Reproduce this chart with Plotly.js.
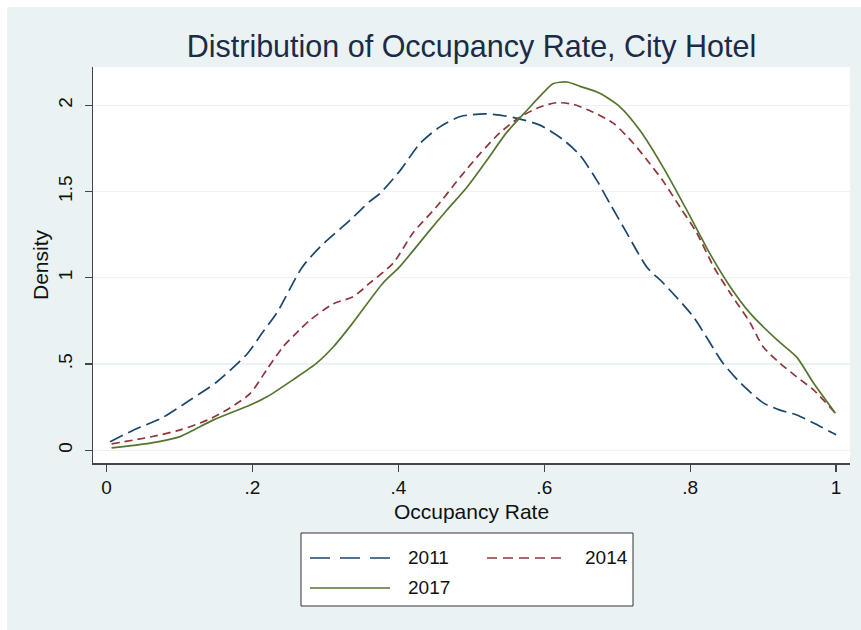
<!DOCTYPE html>
<html>
<head>
<meta charset="utf-8">
<script src="https://cdn.plot.ly/plotly-3.0.1.min.js"></script>
<style>
  html, body { margin: 0; padding: 0; background: #ffffff; overflow: hidden; }
  #frame { position: absolute; left: 7px; top: 7px; right: 0; bottom: 0; background: #eaf2f3; }
  #chart { position: absolute; left: 0; top: 0; width: 854px; height: 623px; }
</style>
</head>
<body>
<div id="frame"><div id="chart"></div></div>
<script>
// ---- data ----
const seriesNames = ["2011", "2014", "2017"];

const x2011 = [0.005,0.036,0.077,0.114,0.151,0.193,0.215,0.234,0.268,0.293,0.334,0.36,0.375,0.402,0.43,0.457,0.485,0.52,0.557,0.594,0.626,0.649,0.672,0.69,0.713,0.741,0.763,0.804,0.845,0.869,0.9,0.923,0.946,0.969,1.0];
const d2011 = [0.05,0.115,0.19,0.29,0.396,0.56,0.69,0.80,1.06,1.18,1.335,1.44,1.49,1.62,1.78,1.875,1.935,1.95,1.93,1.885,1.80,1.71,1.565,1.43,1.26,1.06,0.97,0.775,0.505,0.39,0.275,0.233,0.205,0.158,0.09];

const x2014 = [0.007,0.06,0.1,0.138,0.169,0.197,0.22,0.242,0.265,0.279,0.311,0.338,0.361,0.393,0.42,0.452,0.485,0.512,0.539,0.566,0.594,0.617,0.64,0.667,0.695,0.722,0.745,0.763,0.786,0.809,0.832,0.855,0.882,0.9,0.923,0.946,0.969,0.999];
const d2014 = [0.037,0.077,0.117,0.175,0.245,0.33,0.47,0.6,0.70,0.755,0.85,0.89,0.97,1.085,1.26,1.41,1.585,1.72,1.84,1.93,1.99,2.015,2.005,1.96,1.895,1.78,1.66,1.56,1.41,1.26,1.065,0.91,0.74,0.6,0.505,0.425,0.35,0.215];

const x2017 = [0.007,0.06,0.1,0.146,0.197,0.22,0.256,0.288,0.311,0.336,0.379,0.402,0.443,0.466,0.494,0.521,0.548,0.576,0.598,0.612,0.631,0.649,0.676,0.704,0.731,0.763,0.8,0.827,0.855,0.882,0.919,0.946,0.969,0.999];
const d2017 = [0.014,0.042,0.078,0.175,0.263,0.31,0.41,0.505,0.6,0.73,0.97,1.065,1.275,1.39,1.525,1.68,1.84,1.97,2.07,2.125,2.135,2.11,2.07,1.99,1.855,1.64,1.355,1.14,0.947,0.795,0.64,0.54,0.39,0.215];

const xTickVals = [0, 0.2, 0.4, 0.6, 0.8, 1];
const xTickText = ["0", ".2", ".4", ".6", ".8", "1"];
const yTickVals = [0, 0.5, 1, 1.5, 2];
const yTickText = ["0", ".5", "1", "1.5", "2"];

// ---- styles ----
const colors = ["#1a476f", "#90353b", "#55752f"];
const dashes = ["14px,6px", "8px,5px", "solid"];
const legendDashes = ["20px,10px", "10px,6px", "solid"];
const FONT = "Liberation Sans, Arial, Helvetica, sans-serif";

const W = 854, H = 623;
const M = { l: 86, r: 11, t: 60, b: 167 };
const PW = W - M.l - M.r, PH = H - M.t - M.b;
const px = x => (x - M.l) / PW;
const py = y => (M.t + PH - y) / PH;

const xsAll = [x2011, x2014, x2017];
const ysAll = [d2011, d2014, d2017];

const traces = seriesNames.map((n, i) => ({
  type: "scatter", mode: "lines", name: n,
  x: xsAll[i], y: ysAll[i],
  line: { color: colors[i], width: 1.7, dash: dashes[i], shape: "spline", smoothing: 0.7 },
  showlegend: false, hoverinfo: "skip"
}));

// manual legend (Stata style box, 2 columns)
const shapes = [{
  type: "rect", xref: "paper", yref: "paper",
  x0: px(294), x1: px(626), y0: py(599), y1: py(526),
  line: { color: "#333333", width: 1 }, fillcolor: "#ffffff", layer: "below"
}];
const annotations = [];
const legendPos = [
  { lx0: 303, lx1: 383, ty: 550, tx: 399 },
  { lx0: 480, lx1: 560, ty: 550, tx: 576 },
  { lx0: 303, lx1: 383, ty: 580, tx: 399 }
];
seriesNames.forEach((n, i) => {
  const p = legendPos[i];
  shapes.push({
    type: "line", xref: "paper", yref: "paper",
    x0: px(p.lx0), x1: px(p.lx1), y0: py(p.ty + 1), y1: py(p.ty + 1),
    line: { color: colors[i], width: 1.7, dash: legendDashes[i] }
  });
  annotations.push({
    xref: "paper", yref: "paper", x: px(p.tx), y: py(p.ty),
    xanchor: "left", yanchor: "middle", showarrow: false,
    text: n, font: { family: FONT, size: 19, color: "#111111" }
  });
});

const layout = {
  width: W, height: H,
  margin: M,
  paper_bgcolor: "#eaf2f3",
  plot_bgcolor: "#ffffff",
  font: { family: FONT, color: "#111111" },
  title: {
    text: "Distribution of Occupancy Rate, City Hotel",
    font: { family: FONT, size: 30.5, color: "#1c2b46" },
    x: 0.5, xref: "paper", xanchor: "center",
    y: 1 - 39 / H, yref: "container", yanchor: "middle"
  },
  xaxis: {
    range: [-0.0185, 1.019],
    tickvals: xTickVals, ticktext: xTickText,
    ticks: "outside", ticklen: 7, tickwidth: 1.3, tickcolor: "#444444",
    showline: true, linecolor: "#444444", linewidth: 1.5,
    showgrid: false, zeroline: false,
    tickfont: { family: FONT, size: 19, color: "#111111" },
    title: { text: "Occupancy Rate", font: { family: FONT, size: 21, color: "#111111" }, standoff: 7 }
  },
  yaxis: {
    range: [-0.0736, 2.222],
    tickvals: yTickVals, ticktext: yTickText, tickangle: -90,
    ticks: "outside", ticklen: 7, tickwidth: 1.3, tickcolor: "#444444",
    showline: true, linecolor: "#444444", linewidth: 1.5,
    showgrid: true, gridcolor: "#eaf2f3", gridwidth: 1.2, zeroline: false,
    tickfont: { family: FONT, size: 19, color: "#111111" },
    ticklabelstandoff: 5,
    title: { text: "Density", font: { family: FONT, size: 21, color: "#111111" }, standoff: 0 }
  },
  shapes: shapes,
  annotations: annotations,
  showlegend: false
};

Plotly.newPlot("chart", traces, layout, { staticPlot: true, displayModeBar: false });
</script>
</body>
</html>
